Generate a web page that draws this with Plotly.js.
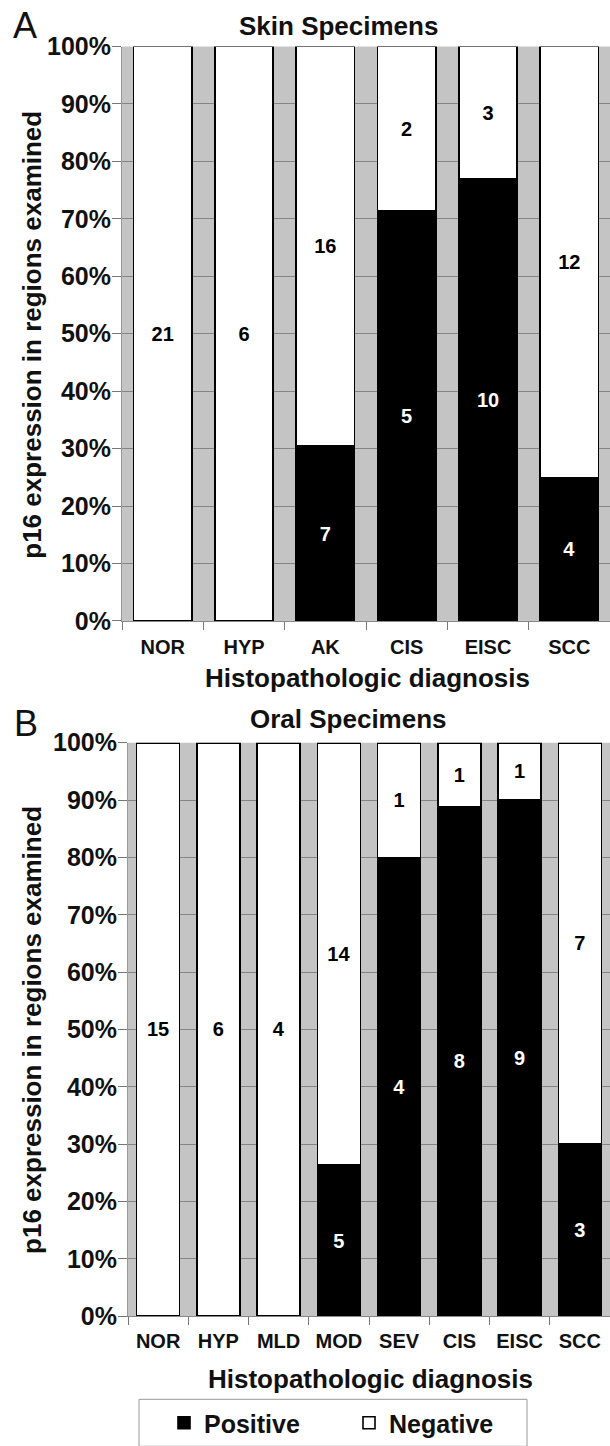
<!DOCTYPE html>
<html><head><meta charset="utf-8">
<script src="https://cdn.plot.ly/plotly-3.0.1.min.js"></script>
<style>html,body{margin:0;padding:0;background:#fff}#chart{width:610px;height:1446px}</style>
</head><body><div id="chart"></div>
<script>
// ---- data ----
const skinCategories = ['NOR', 'HYP', 'AK', 'CIS', 'EISC', 'SCC'];
const skinPositive = [0, 0, 7, 5, 10, 4];
const skinNegative = [21, 6, 16, 2, 3, 12];
const oralCategories = ['NOR', 'HYP', 'MLD', 'MOD', 'SEV', 'CIS', 'EISC', 'SCC'];
const oralPositive = [0, 0, 0, 5, 4, 8, 9, 3];
const oralNegative = [15, 6, 4, 14, 1, 1, 1, 7];
const yTickVals = [0, 10, 20, 30, 40, 50, 60, 70, 80, 90, 100];
const yTickText = ['0%', '10%', '20%', '30%', '40%', '50%', '60%', '70%', '80%', '90%', '100%'];
const seriesNames = ['Positive', 'Negative'];

// ---- styling ----
const FONT = 'Liberation Sans, Arial, Helvetica, sans-serif';
const W = 610, H = 1446;
const px = v => v / W;
const py = v => (H - v) / H;
const lbl = arr => arr.map(v => v ? String(v) : '');

function barTrace(cats, vals, name, fill, txtColor, xa, ya, showleg) {
  return {
    type: 'bar', x: cats, y: vals, name: name,
    xaxis: xa, yaxis: ya, showlegend: showleg, legendgroup: name,
    marker: {color: fill, line: {color: '#000', width: 1.6}},
    text: lbl(vals), textposition: 'inside', insidetextanchor: 'middle',
    textangle: 0, constraintext: 'none',
    textfont: {family: FONT, size: 20, weight: 'bold', color: txtColor},
    hoverinfo: 'x+y+name'
  };
}

const data = [
  barTrace(skinCategories, skinPositive, seriesNames[0], '#000', '#fff', 'x', 'y', true),
  barTrace(skinCategories, skinNegative, seriesNames[1], '#fff', '#000', 'x', 'y', true),
  barTrace(oralCategories, oralPositive, seriesNames[0], '#000', '#fff', 'x2', 'y2', false),
  barTrace(oralCategories, oralNegative, seriesNames[1], '#fff', '#000', 'x2', 'y2', false)
];

function xAxis(domain, anchor, standoff) {
  return {
    domain: domain, anchor: anchor, type: 'category',
    tickson: 'boundaries', ticks: 'outside', ticklen: 8, tickcolor: '#777', tickwidth: 1,
    showline: true, linecolor: '#888', linewidth: 1, showgrid: false, zeroline: false,
    ticklabelstandoff: standoff,
    tickfont: {family: FONT, size: 20, weight: 'bold', color: '#111'},
    fixedrange: true
  };
}
function yAxis(domain, anchor) {
  return {
    domain: domain, anchor: anchor, range: [0, 100],
    tickvals: yTickVals, ticktext: yTickText,
    ticks: 'outside', ticklen: 9, tickcolor: '#777', tickwidth: 1,
    ticklabelstandoff: -4,
    showline: true, linecolor: '#999', linewidth: 1,
    showgrid: true, gridcolor: '#858585', gridwidth: 1, zeroline: false,
    tickfont: {family: FONT, size: 25, weight: 'bold', color: '#111'},
    fixedrange: true
  };
}

const annFont = (size, weight) => ({family: FONT, size: size, weight: weight, color: '#111'});
function ann(text, x, y, size, weight, angle) {
  return {text: text, x: px(x), y: py(y), xref: 'paper', yref: 'paper',
          xanchor: 'center', yanchor: 'middle', showarrow: false,
          textangle: angle || 0, font: annFont(size, weight)};
}
const annotations = [
  ann('A', 25, 26, 36, 'normal'),
  ann('Skin Specimens', 338, 26, 26, 'bold'),
  ann('Histopathologic diagnosis', 367, 685, 26, 'bold'),
  ann('p16 expression in regions examined', 32, 338, 26, 'bold', -90),
  ann('B', 26, 731, 36, 'normal'),
  ann('Oral Specimens', 348, 726, 26, 'bold'),
  ann('Histopathologic diagnosis', 370, 1392, 26, 'bold'),
  ann('p16 expression in regions examined', 32, 1040, 26, 'bold', -90)
];

const layout = {
  width: W, height: H,
  margin: {l: 0, r: 0, t: 0, b: 0, pad: 0},
  paper_bgcolor: '#fff', plot_bgcolor: '#c4c4c4',
  barmode: 'stack', barnorm: 'percent', bargap: 0.285,
  font: {family: FONT, color: '#111'},
  xaxis: xAxis([px(122), 1], 'y', 8),
  yaxis: yAxis([py(627), py(47)], 'x'),
  xaxis2: xAxis([px(128), 1], 'y2', 7),
  yaxis2: yAxis([py(1329), py(750)], 'x2'),
  showlegend: true,
  legend: {
    orientation: 'h', x: px(164), y: py(1414), xanchor: 'left', yanchor: 'top',
    traceorder: 'normal', bgcolor: 'rgba(0,0,0,0)', borderwidth: 0,
    entrywidth: 140, entrywidthmode: 'pixels',
    font: {family: FONT, size: 25, weight: 'bold', color: '#111'}
  },
  shapes: [
    {type: 'rect', xref: 'paper', yref: 'paper', x0: px(139), x1: px(527), y0: -0.01, y1: py(1413),
     line: {color: '#999', width: 1}, fillcolor: 'rgba(0,0,0,0)', layer: 'below'}
  ],
  annotations: annotations
};

Plotly.newPlot('chart', data, layout, {displayModeBar: false, staticPlot: true});
</script>
</body></html>
